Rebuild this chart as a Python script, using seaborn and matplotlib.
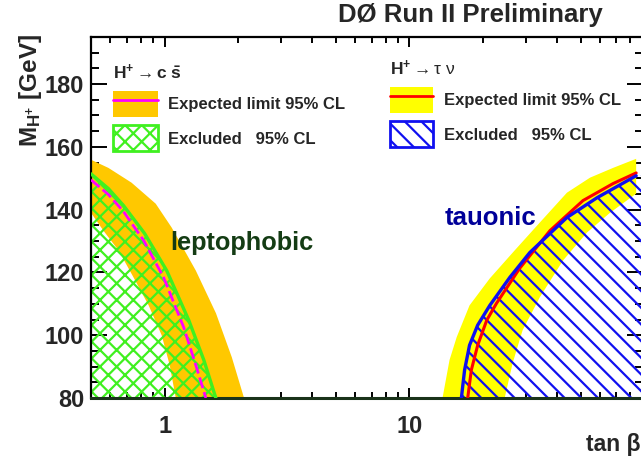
import numpy as np
import matplotlib
matplotlib.use("Agg")
import matplotlib.pyplot as plt
import seaborn as sns
from matplotlib.patches import Patch
from matplotlib.lines import Line2D
from matplotlib.ticker import LogLocator, MultipleLocator, NullFormatter

# ==============================
# DATA
# ==============================

# H+ -> c sbar (leptophobic), expected band, outer edge
cs_band_hi_tan = [0.5, 0.589, 0.732, 0.919, 1.068, 1.34, 1.62, 1.88, 2.11]
cs_band_hi_m = [155.9, 153.3, 148.6, 141.9, 134.3, 120.6, 107.0, 93.0, 80.0]
# expected band, inner edge
cs_band_lo_tan = [0.5, 0.562, 0.648, 0.739, 0.86, 0.972, 1.048, 1.11]
cs_band_lo_m = [139.0, 133.3, 127.0, 119.0, 109.5, 100.0, 90.5, 80.0]
# expected limit
cs_exp_tan = [0.5, 0.589, 0.679, 0.82, 0.99, 1.196, 1.34, 1.473]
cs_exp_m = [149.5, 144.8, 139.4, 130.2, 118.4, 102.5, 90.5, 80.0]
# observed exclusion
cs_obs_tan = [0.5, 0.589, 0.679, 0.828, 1.019, 1.254, 1.445, 1.618]
cs_obs_m = [151.4, 146.7, 141.3, 132.4, 120.6, 104.8, 92.1, 80.0]

# H+ -> tau nu (tauonic), expected band, outer edge
tn_band_hi_tan = [13.65, 14.58, 15.6, 17.6, 21.3, 26.9, 34.1, 44.0, 54.7, 67.9, 84.4]
tn_band_hi_m = [80.0, 92.1, 99.4, 109.5, 118.1, 127.0, 135.9, 145.4, 150.2, 153.3, 156.2]
# expected band, inner edge
tn_band_lo_tan = [24.5, 26.4, 29.0, 34.1, 42.4, 53.1, 66.0, 84.4]
tn_band_lo_m = [80.0, 91.1, 101.6, 112.1, 123.8, 132.7, 139.0, 145.1]
# expected limit
tn_exp_tan = [17.3, 17.9, 19.0, 20.7, 22.7, 28.2, 37.5, 51.2, 67.9, 84.4]
tn_exp_m = [80.0, 88.9, 96.8, 104.8, 110.2, 121.3, 133.3, 142.9, 148.3, 151.7]
# observed exclusion
tn_obs_tan = [16.3, 16.8, 17.6, 19.0, 21.3, 25.7, 31.0, 44.0, 58.4, 84.4]
tn_obs_m = [80.0, 88.9, 96.8, 103.2, 109.5, 118.4, 126.3, 137.5, 143.8, 150.8]

x_range = (0.5, 90)
y_range = (80, 195)
x_major = [1, 10]
x_major_labels = ["1", "10"]

# ==============================
# STYLE
# ==============================

sns.set_style("ticks")
plt.rcParams["font.family"] = ["Liberation Sans", "DejaVu Sans"]
plt.rcParams["mathtext.fontset"] = "custom"
plt.rcParams["mathtext.rm"] = "Liberation Sans"
plt.rcParams["mathtext.bf"] = "Liberation Sans:bold"
plt.rcParams["mathtext.it"] = "Liberation Sans:italic"
plt.rcParams["hatch.linewidth"] = 1.6

orange = "#ffc800"
magenta = "#ff00ff"
green = "#40f020"
yellow = "#ffff00"
red = "#ff0000"
blue = "#1010f0"

fig = plt.figure(figsize=(6.41, 4.62), dpi=100)
ax = fig.add_axes([91 / 641, 64 / 462, 552 / 641, 361 / 462])
ax.set_xscale("log")

# ==============================
# LEPTOPHOBIC (c sbar)
# ==============================

ax.fill(cs_band_hi_tan + cs_band_lo_tan[::-1],
        cs_band_hi_m + cs_band_lo_m[::-1],
        color=orange, lw=0, zorder=1)

ax.fill_between(cs_obs_tan, y_range[0], cs_obs_m,
                facecolor="none", edgecolor=green, hatch="xx", lw=0, zorder=2)

sns.lineplot(x=cs_exp_tan, y=cs_exp_m, ax=ax, color=magenta, lw=2,
             linestyle=(0, (4, 1.5)), sort=False, estimator=None, zorder=3)
sns.lineplot(x=cs_obs_tan, y=cs_obs_m, ax=ax, color=green, lw=2.4,
             sort=False, estimator=None, zorder=4)

# ==============================
# TAUONIC (tau nu)
# ==============================

ax.fill(tn_band_hi_tan + tn_band_lo_tan[::-1],
        tn_band_hi_m + tn_band_lo_m[::-1],
        color=yellow, lw=0, zorder=1)

ax.fill_betweenx(tn_obs_m, tn_obs_tan, x_range[1],
                 facecolor="none", edgecolor=blue, hatch="\\\\", lw=0, zorder=2)

sns.lineplot(x=tn_exp_tan, y=tn_exp_m, ax=ax, color=red, lw=2.2,
             sort=False, estimator=None, zorder=3)
sns.lineplot(x=tn_obs_tan, y=tn_obs_m, ax=ax, color=blue, lw=2.4,
             sort=False, estimator=None, zorder=4)

# ==============================
# AXES
# ==============================

ax.set_xlim(*x_range)
ax.set_ylim(*y_range)
ax.set_xticks(x_major, labels=x_major_labels)
ax.xaxis.set_minor_locator(LogLocator(base=10, subs=np.arange(2, 10), numticks=20))
ax.xaxis.set_minor_formatter(NullFormatter())
ax.yaxis.set_major_locator(MultipleLocator(20))
ax.yaxis.set_minor_locator(MultipleLocator(5))
ax.set_xlabel("")
ax.set_ylabel("")

for lab in ax.get_xticklabels() + ax.get_yticklabels():
    lab.set_fontweight("bold")
    lab.set_fontsize(17)

ax.tick_params(axis="both", which="both", direction="in", top=True, right=True,
               width=1.4, color="black")
ax.tick_params(axis="x", which="major", length=7.2, pad=12)
ax.tick_params(axis="x", which="minor", length=4.3)
ax.tick_params(axis="y", which="major", length=11.5, pad=5)
ax.tick_params(axis="y", which="minor", length=5.8)

for side in ["left", "top", "right"]:
    ax.spines[side].set_linewidth(1.6)
    ax.spines[side].set_color("black")
ax.spines["bottom"].set_linewidth(2.2)
ax.spines["bottom"].set_color("#1a331a")

# ==============================
# TEXT
# ==============================

fig.text(603 / 641, 1 - 15 / 462, "DØ Run II Preliminary", ha="right", va="center",
         fontsize=18.5, fontweight="bold")
fig.text(30 / 641, 1 - 34 / 462, r"$\mathbf{M_{H^{+}}}$ [GeV]", rotation=90,
         ha="center", va="top", fontsize=17.5, fontweight="bold")
fig.text(641 / 641, 1 - 445 / 462, "tan β", ha="right", va="center",
         fontsize=16.5, fontweight="bold")
fig.text(170 / 641, 1 - 243 / 462, "leptophobic", ha="left", va="center",
         fontsize=18.3, fontweight="bold", color="#143c14")
fig.text(445 / 641, 1 - 218 / 462, "tauonic", ha="left", va="center",
         fontsize=18.5, fontweight="bold", color="#000099")

# ==============================
# LEGENDS
# ==============================

leg_font = {"weight": "bold", "size": 12}
title_font = {"weight": "bold", "size": 12.5}

cs_handles = [
    (Patch(facecolor=orange, edgecolor="none"), Line2D([], [], color=magenta, lw=2)),
    Patch(facecolor="white", edgecolor=green, hatch="xx", lw=2),
]
fig.legend(cs_handles, ["Expected limit 95% CL", "Excluded   95% CL"],
           loc="upper left", bbox_to_anchor=(113 / 641, 1 - 63 / 462),
           frameon=False, borderpad=0, borderaxespad=0,
           handlelength=2.7, handleheight=2.0, handletextpad=0.6,
           labelspacing=0.52, prop=leg_font,
           title=r"$\mathbf{H^{+}} \rightarrow \mathbf{c\ \bar{s}}$",
           title_fontproperties=title_font, alignment="left")

tn_handles = [
    (Patch(facecolor=yellow, edgecolor="none"), Line2D([], [], color=red, lw=2)),
    Patch(facecolor="white", edgecolor=blue, hatch="\\\\", lw=2),
]
fig.legend(tn_handles, ["Expected limit 95% CL", "Excluded   95% CL"],
           loc="upper left", bbox_to_anchor=(390 / 641, 1 - 59 / 462),
           frameon=False, borderpad=0, borderaxespad=0,
           handlelength=2.57, handleheight=2.0, handletextpad=0.7,
           labelspacing=0.52, prop=leg_font,
           title=r"$\mathbf{H^{+}} \rightarrow \mathrm{\tau\ \nu}$",
           title_fontproperties=title_font, alignment="left")

fig.savefig("out.png", dpi=100)
